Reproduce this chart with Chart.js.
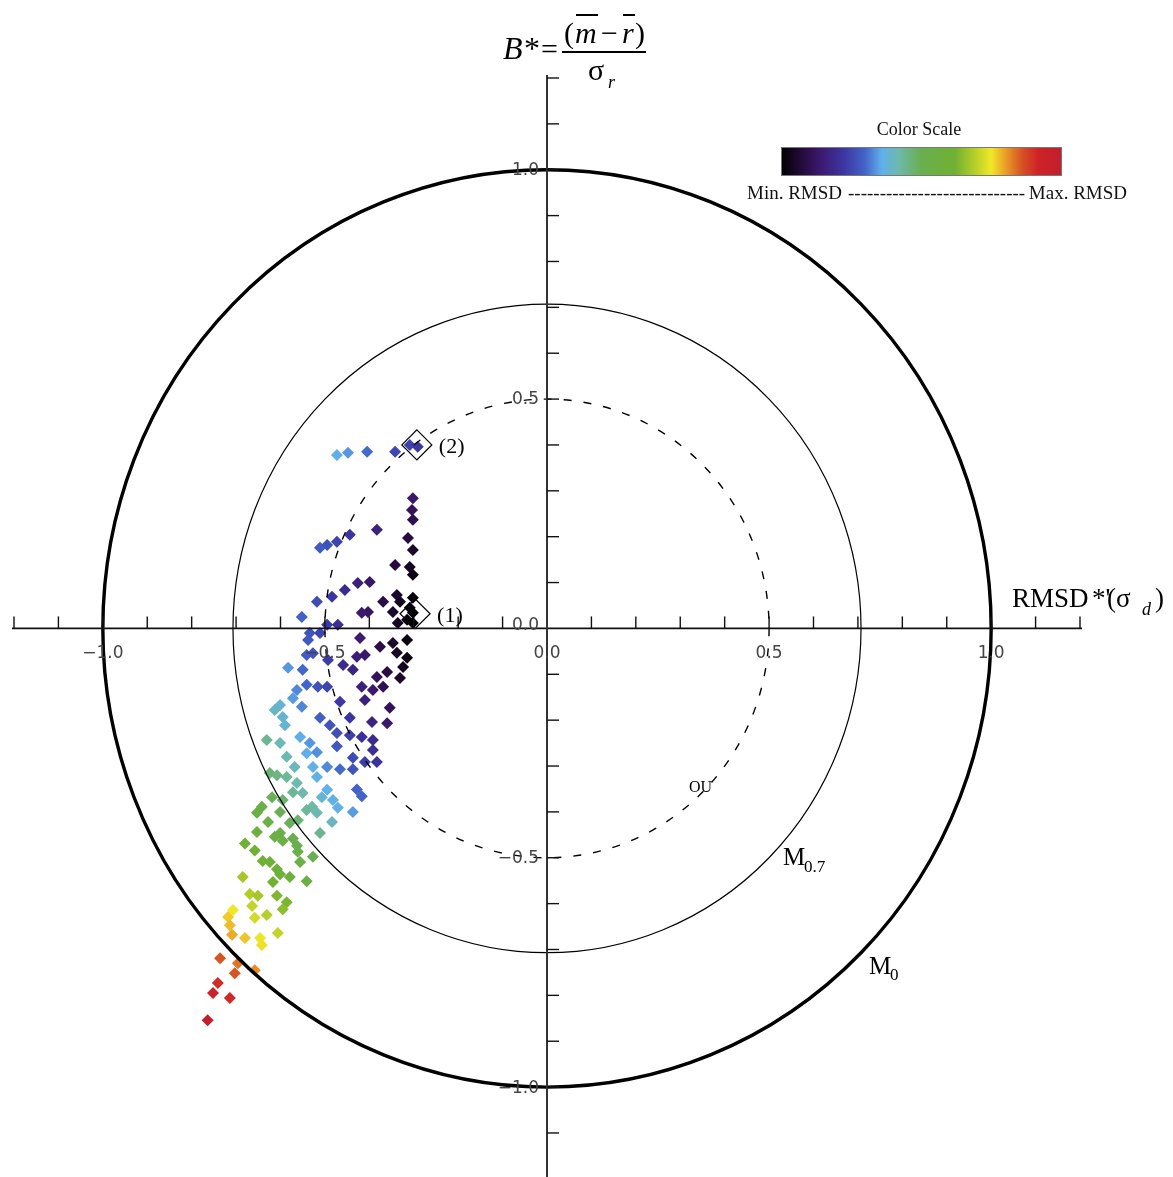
<!DOCTYPE html>
<html><head><meta charset="utf-8">
<script src="https://cdn.jsdelivr.net/npm/chart.js@4/dist/chart.umd.min.js"></script>
<style>html,body{margin:0;padding:0;background:#fff;overflow:hidden}#wrap{width:1173px;height:1177px}</style>
</head><body><div id="wrap"><canvas id="c" width="1173" height="1177"></canvas></div>
<script>
// ---------- data ----------
const xValues = [-0.473,-0.448,-0.405,-0.342,-0.309,-0.291,
-0.302,-0.304,-0.302,-0.313,-0.302,-0.342,-0.309,-0.302,-0.338,-0.302,-0.309,-0.347,-0.302,-0.315,-0.336,-0.302,-0.331,-0.369,-0.403,-0.417,
-0.383,-0.444,-0.473,-0.495,-0.511,-0.399,-0.426,-0.455,-0.484,-0.518,-0.552,-0.471,-0.495,-0.511,-0.534,-0.538,-0.421,-0.376,-0.347,-0.315,-0.338,-0.541,
-0.527,-0.493,-0.459,-0.428,-0.410,-0.315,-0.324,-0.331,-0.360,-0.383,-0.369,-0.392,-0.354,-0.417,-0.410,-0.394,-0.360,-0.437,
-0.583,-0.550,-0.541,-0.516,-0.495,-0.563,-0.572,-0.552,-0.601,-0.613,-0.595,-0.590,-0.466,-0.511,-0.489,-0.444,-0.473,-0.444,-0.417,-0.392,-0.392,-0.437,-0.410,-0.383,-0.473,-0.466,-0.437,-0.428,-0.417,-0.437,
-0.556,-0.534,-0.541,-0.518,-0.527,-0.495,-0.518,-0.495,-0.482,-0.507,-0.529,-0.484,-0.471,
-0.631,-0.601,-0.586,-0.568,-0.586,-0.563,-0.572,-0.550,-0.541,-0.518,-0.561,-0.511,
-0.624,-0.608,-0.619,-0.595,-0.642,-0.653,-0.628,-0.601,-0.579,-0.653,-0.601,
-0.680,-0.658,-0.613,-0.595,-0.572,-0.563,-0.561,-0.527,-0.556,-0.640,-0.624,-0.608,-0.601,-0.579,-0.617,-0.541,-0.685,-0.669,-0.651,-0.608,-0.586,-0.595,-0.664,-0.631,-0.658,-0.606,-0.646,
-0.707,-0.718,-0.714,-0.709,-0.680,-0.642,
-0.736,-0.696,-0.658,-0.703,
-0.741,-0.752,-0.714,-0.764];
const yValues = [0.378,0.383,0.385,0.385,0.400,0.396,
0.284,0.258,0.237,0.197,0.171,0.138,0.134,0.117,0.073,0.067,0.045,0.036,0.034,0.019,0.012,0.012,0.058,0.058,0.036,0.034,
0.215,0.204,0.189,0.182,0.176,0.101,0.099,0.084,0.069,0.058,0.025,0.008,0.008,-0.010,-0.010,-0.025,-0.021,-0.040,-0.032,-0.025,-0.053,-0.058,
-0.054,-0.069,-0.080,-0.062,-0.058,-0.064,-0.084,-0.108,-0.095,-0.106,-0.127,-0.134,-0.173,-0.127,-0.156,-0.204,-0.207,-0.090,
-0.086,-0.090,-0.123,-0.127,-0.127,-0.134,-0.152,-0.171,-0.167,-0.178,-0.193,-0.211,-0.160,-0.195,-0.211,-0.195,-0.228,-0.233,-0.237,-0.243,-0.265,-0.282,-0.291,-0.291,-0.257,-0.307,-0.307,-0.351,-0.366,-0.400,
-0.237,-0.250,-0.272,-0.270,-0.302,-0.302,-0.324,-0.352,-0.374,-0.368,-0.389,-0.422,-0.391,
-0.243,-0.250,-0.280,-0.302,-0.324,-0.337,-0.357,-0.359,-0.396,-0.402,-0.418,-0.446,
-0.315,-0.320,-0.368,-0.374,-0.389,-0.402,-0.422,-0.400,-0.424,-0.444,-0.446,
-0.469,-0.484,-0.454,-0.463,-0.458,-0.474,-0.487,-0.498,-0.509,-0.507,-0.509,-0.525,-0.536,-0.542,-0.553,-0.551,-0.542,-0.579,-0.583,-0.583,-0.597,-0.612,-0.605,-0.625,-0.631,-0.664,-0.675,
-0.614,-0.629,-0.647,-0.668,-0.675,-0.690,
-0.719,-0.730,-0.745,-0.752,
-0.773,-0.795,-0.806,-0.854];
const refLabels = ['(1)', '(2)'];
const refX = [-0.297, -0.293];
const refY = [0.032, 0.400];
const circleRadii = [1.0, 0.707, 0.5];
const xTickValues = [-1.0, -0.5, 0.0, 0.5, 1.0];
const xTickLabels = ['\u22121.0', '\u22120.5', '0.0', '0.5', '1.0'];
const yTickValues = [1.0, 0.5, 0.0, -0.5, -1.0];
const yTickLabels = ['1.0', '0.5', '0.0', '\u22120.5', '\u22121.0'];
const rmsdRange = [0.30, 1.15];

// ---------- colour scale ----------
const cmapStops = [
 [0.00,[0,0,0]],[0.07,[35,10,55]],[0.14,[60,25,110]],[0.22,[60,52,160]],
 [0.30,[66,100,200]],[0.36,[96,176,235]],[0.42,[110,185,172]],[0.50,[105,175,80]],
 [0.62,[112,176,50]],[0.70,[190,210,40]],[0.75,[240,232,40]],[0.80,[235,160,40]],
 [0.86,[215,82,35]],[0.92,[205,35,40]],[1.00,[195,30,45]]];
function cmap(t){
  t = Math.max(0, Math.min(1, t));
  for (let i = 1; i < cmapStops.length; i++) {
    const [t1,c1] = cmapStops[i], [t0,c0] = cmapStops[i-1];
    if (t <= t1) {
      const f = (t - t0) / (t1 - t0);
      const c = c0.map((v,k) => Math.round(v + (c1[k]-v)*f));
      return `rgb(${c[0]},${c[1]},${c[2]})`;
    }
  }
  return 'rgb(195,30,45)';
}

const n = Math.min(xValues.length, yValues.length);
const points = [];
for (let i = 0; i < n; i++) points.push({x: xValues[i], y: yValues[i]});
const refPoints = refX.map((v,i) => ({x: v, y: refY[i]}));

const SERIF = "'Liberation Serif','Times New Roman',serif";

const targetPlugin = {
  id: 'target',
  afterDatasetsDraw(chart) {
    const {ctx, scales: {x, y}, chartArea: ca} = chart;
    const cx = x.getPixelForValue(0), cy = y.getPixelForValue(0);
    ctx.save();
    // circles
    const styles = [{w: 3.4, dash: []}, {w: 1.2, dash: []}, {w: 1.4, dash: [8, 12]}];
    circleRadii.forEach((r, i) => {
      const rx = x.getPixelForValue(r) - cx, ry = cy - y.getPixelForValue(r);
      ctx.beginPath();
      ctx.setLineDash(styles[i].dash);
      ctx.lineWidth = styles[i].w;
      ctx.strokeStyle = '#000';
      ctx.ellipse(cx, cy, rx, ry, 0, 0, Math.PI * 2);
      ctx.stroke();
    });
    ctx.setLineDash([]);
    // axes
    ctx.strokeStyle = '#111';
    ctx.lineWidth = 1.6;
    ctx.beginPath(); ctx.moveTo(ca.left - 2, cy); ctx.lineTo(ca.right + 2, cy); ctx.stroke();
    ctx.strokeStyle = '#333';
    ctx.lineWidth = 2;
    ctx.beginPath(); ctx.moveTo(cx, ca.top - 3); ctx.lineTo(cx, ca.bottom); ctx.stroke();
    // ticks
    ctx.lineWidth = 1.4;
    ctx.strokeStyle = '#111';
    for (let k = -12; k <= 12; k++) {
      if (k === 0) continue;
      const px = x.getPixelForValue(k / 10);
      ctx.beginPath(); ctx.moveTo(px, cy); ctx.lineTo(px, cy - 12); ctx.stroke();
      const py = y.getPixelForValue(k / 10);
      ctx.beginPath(); ctx.moveTo(cx, py); ctx.lineTo(cx + 12, py); ctx.stroke();
    }
    // tick labels
    ctx.fillStyle = '#444';
    ctx.font = "17px 'DejaVu Sans', sans-serif";
    ctx.textAlign = 'center'; ctx.textBaseline = 'middle';
    xTickValues.forEach((v, i) => ctx.fillText(xTickLabels[i], x.getPixelForValue(v), cy + 25));
    ctx.textAlign = 'right';
    yTickValues.forEach((v, i) => ctx.fillText(yTickLabels[i], cx - 8, y.getPixelForValue(v) + (v === 0 ? -3 : 1)));

    // circle labels
    ctx.fillStyle = '#000';
    ctx.textAlign = 'left'; ctx.textBaseline = 'alphabetic';
    ctx.font = `25px ${SERIF}`;
    ctx.fillText('M', 783, 865);
    ctx.font = `17px ${SERIF}`;
    ctx.fillText('0.7', 804, 872);
    ctx.font = `25px ${SERIF}`;
    ctx.fillText('M', 869, 974);
    ctx.font = `17px ${SERIF}`;
    ctx.fillText('0', 890, 980);
    ctx.font = `16px ${SERIF}`;
    ctx.fillText('OU', 689, 792);

    // reference point labels
    const meta = chart.getDatasetMeta(1);
    ctx.font = `22px ${SERIF}`;
    ctx.textBaseline = 'middle';
    meta.data.forEach((el, i) => ctx.fillText(refLabels[i], el.x + 22, el.y + 2));

    // y-axis title  B* = (m - r)/sigma_r
    ctx.textBaseline = 'alphabetic';
    ctx.font = `italic 32px ${SERIF}`;
    ctx.fillText('B*', 503, 59);
    ctx.font = `30px ${SERIF}`;
    ctx.fillText('=', 541, 59);
    ctx.fillText('(', 564, 43);
    ctx.font = `italic 30px ${SERIF}`;
    ctx.fillText('m', 575, 43);
    ctx.font = `30px ${SERIF}`;
    ctx.fillText('\u2212', 601, 43);
    ctx.font = `italic 30px ${SERIF}`;
    ctx.fillText('r', 622, 43);
    ctx.font = `30px ${SERIF}`;
    ctx.fillText(')', 635, 43);
    ctx.lineWidth = 2; ctx.strokeStyle = '#000';
    ctx.beginPath(); ctx.moveTo(576, 15); ctx.lineTo(598, 15); ctx.stroke();
    ctx.beginPath(); ctx.moveTo(623, 15); ctx.lineTo(635, 15); ctx.stroke();
    ctx.beginPath(); ctx.moveTo(562, 52); ctx.lineTo(646, 52); ctx.stroke();
    ctx.font = `30px ${SERIF}`;
    ctx.fillText('\u03C3', 588, 80);
    ctx.font = `italic 18px ${SERIF}`;
    ctx.fillText('r', 608, 88);

    // x-axis title RMSD*'(sigma_d)
    ctx.font = `27px ${SERIF}`;
    ctx.fillText("RMSD", 1012, 607);
    ctx.fillText("*'", 1092, 607);
    ctx.fillText("(\u03C3", 1107, 607);
    ctx.font = `italic 18px ${SERIF}`;
    ctx.fillText('d', 1142, 615);
    ctx.font = `27px ${SERIF}`;
    ctx.fillText(')', 1155, 607);

    // colour scale legend
    const gx0 = 781, gx1 = 1061, gy0 = 147, gy1 = 175;
    const grad = ctx.createLinearGradient(gx0, 0, gx1, 0);
    cmapStops.forEach(([t]) => grad.addColorStop(t, cmap(t)));
    ctx.fillStyle = grad;
    ctx.fillRect(gx0, gy0, gx1 - gx0, gy1 - gy0);
    ctx.lineWidth = 1; ctx.strokeStyle = '#777';
    ctx.strokeRect(gx0 + 0.5, gy0 + 0.5, gx1 - gx0, gy1 - gy0);
    ctx.fillStyle = '#111';
    ctx.font = `18px ${SERIF}`;
    ctx.textAlign = 'center';
    ctx.fillText('Color Scale', 919, 135);
    ctx.font = `19px ${SERIF}`;
    ctx.textAlign = 'left';
    ctx.fillText('Min. RMSD', 747, 199);
    ctx.fillText('----------------------------', 848, 199);
    ctx.textAlign = 'right';
    ctx.fillText('Max. RMSD', 1127, 199);
    ctx.restore();
  }
};

new Chart(document.getElementById('c'), {
  type: 'scatter',
  data: {
    datasets: [
      {
        label: 'runs',
        data: points,
        pointStyle: 'rectRot',
        pointRadius: 6,
        borderWidth: 0,
        backgroundColor: (c) => {
          const p = c.raw;
          if (!p) return '#000';
          const d = Math.hypot(p.x, p.y);
          return cmap((d - rmsdRange[0]) / (rmsdRange[1] - rmsdRange[0]));
        }
      },
      {
        label: 'reference',
        data: refPoints,
        pointStyle: 'rectRot',
        pointRadius: 15,
        borderWidth: 1.2,
        borderColor: '#000',
        backgroundColor: 'rgba(0,0,0,0)'
      }
    ]
  },
  options: {
    responsive: false,
    devicePixelRatio: 1,
    animation: false,
    layout: {autoPadding: false, padding: {left: 14, right: 93, top: 78, bottom: 0}},
    scales: {
      x: {type: 'linear', min: -1.2, max: 1.2, display: false},
      y: {type: 'linear', min: -1.196, max: 1.2, display: false}
    },
    plugins: {legend: {display: false}, tooltip: {enabled: false}}
  },
  plugins: [targetPlugin]
});
</script>
</body></html>
